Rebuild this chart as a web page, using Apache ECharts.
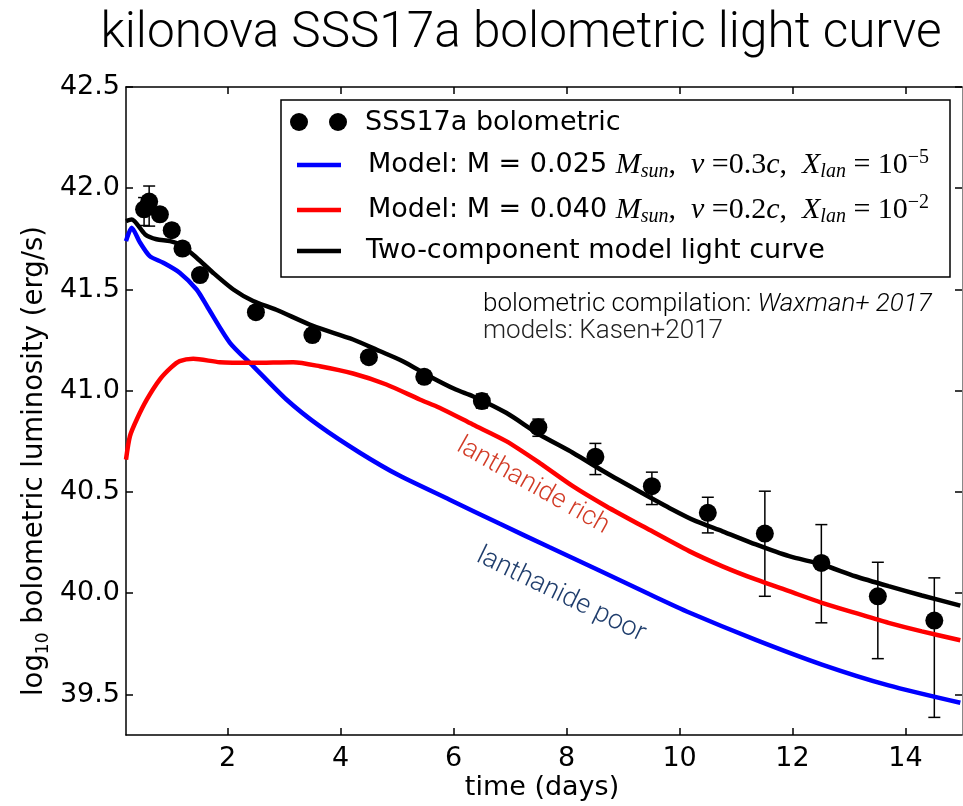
<!DOCTYPE html>
<html>
<head>
<meta charset="utf-8">
<script src="https://cdn.jsdelivr.net/npm/echarts@6/dist/echarts.min.js"></script>
<style>
  html, body { margin: 0; padding: 0; background: #fff; }
  #chart { width: 963px; height: 806px; }
</style>
</head>
<body>
<div id="chart"></div>
<script>
// SSS17a bolometric measurements: days since merger, log10 L, and asymmetric error bars
const obsTime = [0.52, 0.61, 0.80, 1.01, 1.20, 1.51, 2.50, 3.50, 4.50, 5.48, 6.50, 7.50, 8.51, 9.51, 10.50, 11.51, 12.51, 13.51, 14.51];
const obsLum = [41.896, 41.934, 41.871, 41.793, 41.702, 41.571, 41.388, 41.275, 41.166, 41.069, 40.949, 40.820, 40.674, 40.529, 40.397, 40.295, 40.150, 39.985, 39.865];
const obsErrLow = [0.08, 0.121, 0.03, 0.03, 0.03, 0.03, 0.03, 0.03, 0.03, 0.03, 0.035, 0.045, 0.088, 0.091, 0.099, 0.31, 0.296, 0.308, 0.478];
const obsErrHigh = [0.058, 0.077, 0.03, 0.03, 0.03, 0.03, 0.03, 0.03, 0.03, 0.03, 0.035, 0.04, 0.066, 0.069, 0.077, 0.209, 0.189, 0.168, 0.211];

// Lanthanide-poor model (M = 0.025 Msun, v = 0.3c, Xlan = 1e-5)
const blueTime = [0.20, 0.30, 0.45, 0.62, 0.86, 1.15, 1.45, 1.65, 2.04, 2.45, 3.04, 3.63, 4.34, 5.04, 5.93, 6.81, 7.69, 8.58, 9.46, 10.17, 11.35, 12.52, 13.70, 14.97];
const blueLum = [41.739, 41.805, 41.731, 41.665, 41.632, 41.583, 41.500, 41.410, 41.237, 41.122, 40.957, 40.825, 40.694, 40.581, 40.462, 40.344, 40.228, 40.112, 39.996, 39.905, 39.770, 39.648, 39.545, 39.459];

// Lanthanide-rich model (M = 0.040 Msun, v = 0.2c, Xlan = 1e-2)
const redTime = [0.20, 0.27, 0.39, 0.57, 0.80, 1.00, 1.15, 1.39, 1.86, 2.45, 3.16, 3.63, 4.22, 4.81, 5.40, 5.75, 6.34, 6.93, 7.52, 8.11, 8.70, 9.40, 10.17, 10.76, 11.35, 11.94, 12.52, 13.11, 13.70, 14.29, 14.97];
const redLum = [40.660, 40.776, 40.858, 40.957, 41.056, 41.115, 41.146, 41.158, 41.141, 41.138, 41.141, 41.121, 41.085, 41.031, 40.957, 40.916, 40.833, 40.751, 40.644, 40.529, 40.430, 40.323, 40.208, 40.133, 40.068, 40.010, 39.953, 39.903, 39.854, 39.812, 39.768];

// Sum of both components
const sumTime = [0.20, 0.30, 0.54, 0.74, 0.98, 1.18, 1.45, 1.74, 2.10, 2.45, 2.86, 3.51, 4.22, 4.69, 5.10, 5.57, 6.04, 6.34, 6.93, 7.52, 8.11, 8.70, 9.28, 9.87, 10.29, 10.76, 11.35, 11.94, 12.52, 13.11, 13.70, 14.29, 14.97];
const sumLum = [41.838, 41.846, 41.772, 41.748, 41.739, 41.718, 41.657, 41.583, 41.500, 41.443, 41.400, 41.320, 41.253, 41.196, 41.146, 41.072, 41.006, 40.973, 40.891, 40.784, 40.694, 40.595, 40.504, 40.414, 40.356, 40.306, 40.241, 40.183, 40.142, 40.084, 40.035, 39.989, 39.939];

// Axis ticks
const timeTicks = [2, 4, 6, 8, 10, 12, 14];
const lumTicks = [39.5, 40.0, 40.5, 41.0, 41.5, 42.0, 42.5];

const zip = (xs, ys) => xs.map((x, i) => [x, ys[i]]);

const SANS = 'DejaVu Sans';
const SERIF = 'Liberation Serif';
const LIGHT = 'Roboto';

const chart = echarts.init(document.getElementById('chart'), null, { renderer: 'canvas' });

const tickStyle = { show: true, inside: true, length: 7, lineStyle: { color: '#000', width: 1.5 } };

// Rich styles for the legend rows (mixed roman / math italic text)
const legendRich = {
  t: { fontFamily: SANS, fontSize: 27, lineHeight: 34, color: '#000' },
  m: { fontFamily: SERIF, fontStyle: 'italic', fontSize: 30, lineHeight: 34, color: '#000' },
  r: { fontFamily: SERIF, fontSize: 30, lineHeight: 34, color: '#000' },
  sub: { fontFamily: SERIF, fontStyle: 'italic', fontSize: 20, lineHeight: 20, verticalAlign: 'bottom', color: '#000' },
  sup: { fontFamily: SERIF, fontSize: 20, lineHeight: 20, verticalAlign: 'top', color: '#000' }
};

function modelLabel(mass, vel, xpow) {
  return '{t|Model: M = ' + mass + ' }{m|M}{sub|sun}{r|,  }{m|v}{r| =' + vel + '}{m|c}{r|,  }{m|X}{sub|lan}{r| = 10}{sup|\u2212' + xpow + '}';
}

const legendX = 281, legendY = 100, legendW = 669, legendH = 177;
const handleX1 = 297, handleX2 = 341, textX = 366;
const rowY = [122, 165, 210, 251];

const legendElements = [
  { type: 'rect', shape: { x: legendX, y: legendY, width: legendW, height: legendH },
    style: { fill: '#fff', stroke: '#000', lineWidth: 1.5 }, z: 100 },
  { type: 'circle', shape: { cx: 299, cy: rowY[0], r: 9 }, style: { fill: '#000' }, z: 101 },
  { type: 'circle', shape: { cx: 338, cy: rowY[0], r: 9 }, style: { fill: '#000' }, z: 101 },
  { type: 'text', x: 365, y: rowY[0] + 1, z: 101,
    style: { text: 'SSS17a bolometric', fontFamily: SANS, fontSize: 27, fill: '#000', verticalAlign: 'middle' } },
  { type: 'line', shape: { x1: handleX1, y1: rowY[1], x2: handleX2, y2: rowY[1] }, style: { stroke: '#0000ff', lineWidth: 4.5 }, z: 101 },
  { type: 'text', x: textX + 2, y: rowY[1], z: 101,
    style: { text: modelLabel('0.025', '0.3', 5), rich: legendRich, verticalAlign: 'middle' } },
  { type: 'line', shape: { x1: handleX1, y1: rowY[2], x2: handleX2, y2: rowY[2] }, style: { stroke: '#ff0000', lineWidth: 4.5 }, z: 101 },
  { type: 'text', x: textX + 2, y: rowY[2], z: 101,
    style: { text: modelLabel('0.040', '0.2', 2), rich: legendRich, verticalAlign: 'middle' } },
  { type: 'line', shape: { x1: handleX1, y1: rowY[3], x2: handleX2, y2: rowY[3] }, style: { stroke: '#000', lineWidth: 4.5 }, z: 101 },
  { type: 'text', x: textX, y: rowY[3], z: 101,
    style: { text: 'Two-component model light curve', fontFamily: SANS, fontSize: 27, fill: '#000', verticalAlign: 'middle' } }
];

const option = {
  backgroundColor: '#fff',
  animation: false,
  grid: { left: 126, right: 1, top: 87, bottom: 71, containLabel: false },
  xAxis: [
    {
      type: 'value', min: 0.2, max: 15, position: 'bottom',
      axisLine: { show: true, lineStyle: { color: '#000', width: 1.5 } },
      axisTick: Object.assign({ customValues: timeTicks }, tickStyle),
      axisLabel: { customValues: timeTicks, fontFamily: SANS, fontSize: 27, color: '#000', margin: 10 },
      splitLine: { show: false }
    },
    {
      type: 'value', min: 0.2, max: 15, position: 'top',
      axisLine: { show: true, lineStyle: { color: '#000', width: 1.5 } },
      axisTick: Object.assign({ customValues: timeTicks }, tickStyle),
      axisLabel: { show: false },
      splitLine: { show: false }
    }
  ],
  yAxis: [
    {
      type: 'value', min: 39.3, max: 42.5, position: 'left',
      axisLine: { show: true, lineStyle: { color: '#000', width: 1.5 } },
      axisTick: Object.assign({ customValues: lumTicks }, tickStyle),
      axisLabel: { customValues: lumTicks, fontFamily: SANS, fontSize: 27, color: '#000', margin: 6,
                   formatter: v => v.toFixed(1) },
      splitLine: { show: false }
    },
    {
      type: 'value', min: 39.3, max: 42.5, position: 'right',
      axisLine: { show: true, lineStyle: { color: '#888', width: 1 } },
      axisTick: Object.assign({ customValues: lumTicks }, tickStyle),
      axisLabel: { show: false },
      splitLine: { show: false }
    }
  ],
  series: [
    {
      name: 'errors', type: 'custom', z: 2,
      data: obsTime.map((t, i) => [t, obsLum[i] - obsErrLow[i], obsLum[i] + obsErrHigh[i]]),
      encode: { x: 0, y: [1, 2] },
      renderItem: (params, api) => {
        const x = api.value(0);
        const bot = api.coord([x, api.value(1)]);
        const top = api.coord([x, api.value(2)]);
        const cap = 6;
        const st = { stroke: '#000', lineWidth: 1.5 };
        return {
          type: 'group',
          children: [
            { type: 'line', shape: { x1: top[0], y1: top[1], x2: bot[0], y2: bot[1] }, style: st },
            { type: 'line', shape: { x1: top[0] - cap, y1: top[1], x2: top[0] + cap, y2: top[1] }, style: st },
            { type: 'line', shape: { x1: bot[0] - cap, y1: bot[1], x2: bot[0] + cap, y2: bot[1] }, style: st }
          ]
        };
      }
    },
    {
      name: 'SSS17a bolometric', type: 'scatter', z: 3,
      data: zip(obsTime, obsLum), symbol: 'circle', symbolSize: 18,
      itemStyle: { color: '#000', opacity: 1 }
    },
    {
      name: 'lanthanide poor', type: 'line', z: 4, data: zip(blueTime, blueLum),
      smooth: 0.25, showSymbol: false, lineStyle: { color: '#0000ff', width: 4.5 }
    },
    {
      name: 'lanthanide rich', type: 'line', z: 5, data: zip(redTime, redLum),
      smooth: 0.25, showSymbol: false, lineStyle: { color: '#ff0000', width: 4.5 }
    },
    {
      name: 'two-component', type: 'line', z: 6, data: zip(sumTime, sumLum),
      smooth: 0.25, showSymbol: false, lineStyle: { color: '#000', width: 4.5 }
    }
  ],
  graphic: [
    { type: 'text', x: 521, y: 35,
      style: { text: 'kilonova SSS17a bolometric light curve', fontFamily: LIGHT, fontWeight: 300, fontSize: 49.5,
               fill: '#000', align: 'center', verticalAlign: 'middle' } },
    { type: 'text', x: 35, y: 461, rotation: Math.PI / 2,
      style: { text: '{a|log}{s|10}{a| bolometric luminosity (erg/s)}', align: 'center', verticalAlign: 'middle',
               rich: {
                 a: { fontFamily: SANS, fontSize: 27.5, lineHeight: 34, color: '#000' },
                 s: { fontFamily: SANS, fontSize: 17, lineHeight: 17, verticalAlign: 'bottom', color: '#000' }
               } } },
    { type: 'text', x: 542, y: 788,
      style: { text: 'time (days)', fontFamily: SANS, fontSize: 27, fill: '#000', align: 'center', verticalAlign: 'middle' } },
    { type: 'text', x: 483, y: 304,
      style: { text: '{a|bolometric compilation: }{b|Waxman+ 2017}', verticalAlign: 'middle',
               rich: {
                 a: { fontFamily: LIGHT, fontWeight: 300, fontSize: 26, color: '#222' },
                 b: { fontFamily: LIGHT, fontWeight: 300, fontStyle: 'italic', fontSize: 26, color: '#222' }
               } } },
    { type: 'text', x: 483, y: 331,
      style: { text: 'models: Kasen+2017', fontFamily: LIGHT, fontWeight: 300, fontSize: 26, fill: '#222', verticalAlign: 'middle' } },
    { type: 'text', x: 533, y: 486, rotation: -29.4 * Math.PI / 180,
      style: { text: 'lanthanide rich', fontFamily: LIGHT, fontWeight: 300, fontSize: 26.5, fill: '#d23b26',
               align: 'center', verticalAlign: 'middle' } },
    { type: 'text', x: 561, y: 595, rotation: -26 * Math.PI / 180,
      style: { text: 'lanthanide poor', fontFamily: LIGHT, fontWeight: 300, fontSize: 27, fill: '#1f3d6c',
               align: 'center', verticalAlign: 'middle' } }
  ].concat(legendElements)
};

chart.setOption(option);
</script>
</body>
</html>
